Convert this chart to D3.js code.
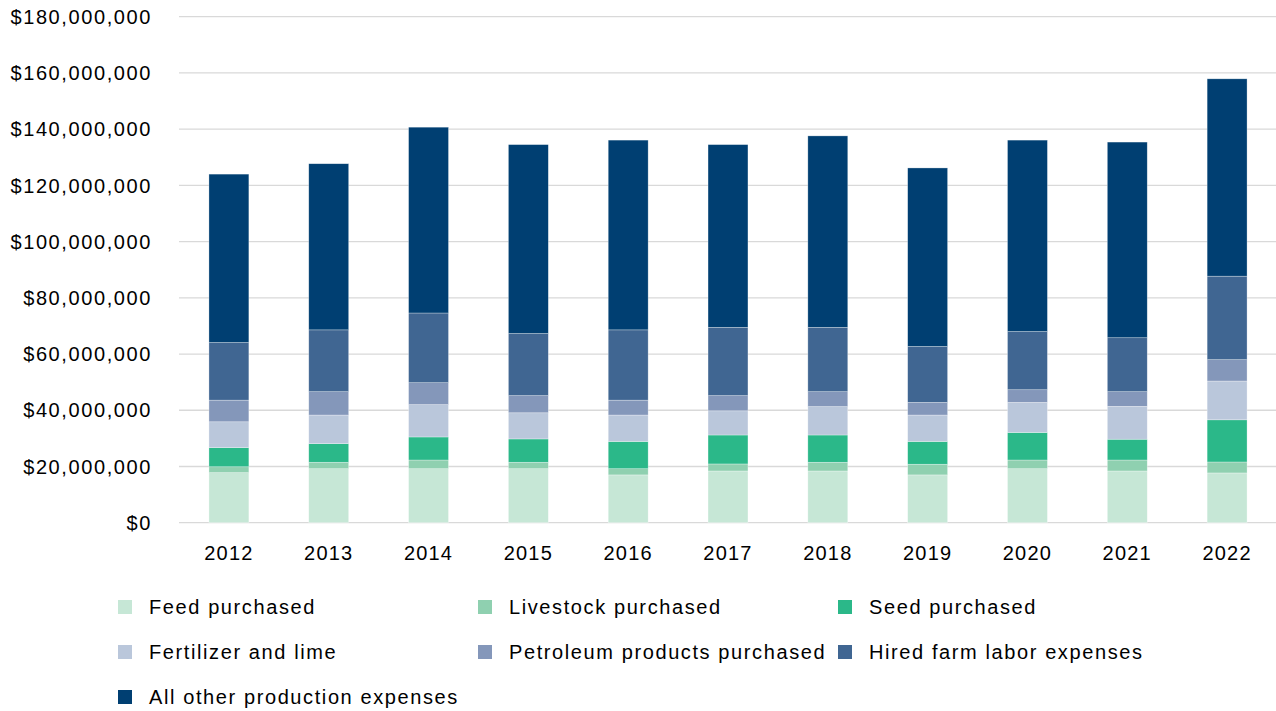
<!DOCTYPE html>
<html>
<head>
<meta charset="utf-8">
<script src="https://cdn.jsdelivr.net/npm/d3@7"></script>
<style>
  body { margin: 0; background: #fff; }
  svg text { font-family: "Liberation Sans", Arial, sans-serif; fill: #000; }
</style>
</head>
<body>
<svg id="chart" width="1276" height="711"></svg>
<script>
// values in millions of dollars
const years = ['2012', '2013', '2014', '2015', '2016', '2017', '2018', '2019', '2020', '2021', '2022'];
const feed = [17.8, 19.2, 19.2, 19.2, 17.0, 18.4, 18.4, 17.0, 19.2, 18.4, 17.7];
const livestock = [2.1, 2.3, 3.1, 2.3, 2.2, 2.5, 3.1, 3.8, 3.1, 3.9, 3.9];
const seed = [6.8, 6.6, 8.2, 8.3, 9.7, 10.3, 9.7, 8.1, 9.8, 7.4, 15.0];
const fertilizer = [9.2, 10.2, 11.5, 9.3, 9.4, 8.6, 10.1, 9.4, 10.7, 11.7, 13.8];
const petroleum = [7.7, 8.3, 7.8, 6.1, 5.3, 5.4, 5.3, 4.5, 4.5, 5.2, 7.6];
const hiredLabor = [20.5, 22.0, 24.8, 22.1, 25.0, 24.3, 22.9, 19.9, 20.7, 19.2, 29.7];
const allOther = [59.9, 59.1, 66.1, 67.2, 67.5, 65.0, 68.1, 63.5, 68.1, 69.6, 70.2];

const seriesNames = ['Feed purchased', 'Livestock purchased', 'Seed purchased',
    'Fertilizer and lime', 'Petroleum products purchased', 'Hired farm labor expenses',
    'All other production expenses'];
const seriesValues = [feed, livestock, seed, fertilizer, petroleum, hiredLabor, allOther];
const colors = ['#c6e7d6', '#8fd0b0', '#2bb889', '#bac7db', '#8497ba', '#406692', '#003f72'];
const yTicks = [0, 20, 40, 60, 80, 100, 120, 140, 160, 180];

const svg = d3.select('#chart');

const x = d3.scaleBand()
    .domain(years)
    .range([179, 1277])
    .paddingInner(0.6)
    .paddingOuter(0.3);

const y = d3.scaleLinear()
    .domain([0, 180])
    .range([522.7, 16.7]);

// gridlines
svg.append('g')
    .selectAll('line')
    .data(yTicks)
    .join('line')
    .attr('x1', 179)
    .attr('x2', 1276)
    .attr('y1', d => y(d))
    .attr('y2', d => y(d))
    .attr('stroke', '#d9d9d9')
    .attr('stroke-width', 1.3);

// y labels
const dollar = d3.format(',');
svg.append('g')
    .selectAll('text')
    .data(yTicks)
    .join('text')
    .attr('x', 152)
    .attr('y', d => y(d))
    .attr('dy', '0.36em')
    .attr('text-anchor', 'end')
    .attr('font-size', 20)
    .attr('letter-spacing', 1.6)
    .text(d => '$' + dollar(d * 1e6));

// stacked bars
const table = years.map((yr, i) => {
    const row = { year: yr };
    seriesNames.forEach((s, j) => row[s] = seriesValues[j][i]);
    return row;
});
const stacked = d3.stack().keys(seriesNames)(table);

svg.append('g')
    .selectAll('g')
    .data(stacked)
    .join('g')
    .attr('fill', (d, i) => colors[i])
    .selectAll('rect')
    .data(d => d)
    .join('rect')
    .attr('x', d => x(d.data.year))
    .attr('width', x.bandwidth())
    .attr('y', d => y(d[1]))
    .attr('height', d => y(d[0]) - y(d[1]))
    .attr('stroke', '#ffffff')
    .attr('stroke-opacity', 0.5)
    .attr('stroke-width', 0.6);

// x labels
svg.append('g')
    .selectAll('text')
    .data(years)
    .join('text')
    .attr('x', d => x(d) + x.bandwidth() / 2)
    .attr('y', 560)
    .attr('text-anchor', 'middle')
    .attr('font-size', 20)
    .attr('letter-spacing', 1.2)
    .text(d => d);

// legend, 3 per row
const legend = svg.append('g')
    .selectAll('g')
    .data(seriesNames)
    .join('g')
    .attr('transform', (d, i) => `translate(${118 + (i % 3) * 360}, ${607 + Math.floor(i / 3) * 45})`);

legend.append('rect')
    .attr('x', 0)
    .attr('y', -7)
    .attr('width', 14)
    .attr('height', 14)
    .attr('fill', (d, i) => colors[i]);

legend.append('text')
    .attr('x', 31)
    .attr('y', 0)
    .attr('dy', '0.36em')
    .attr('font-size', 20)
    .attr('letter-spacing', 1.6)
    .text(d => d);
</script>
</body>
</html>
